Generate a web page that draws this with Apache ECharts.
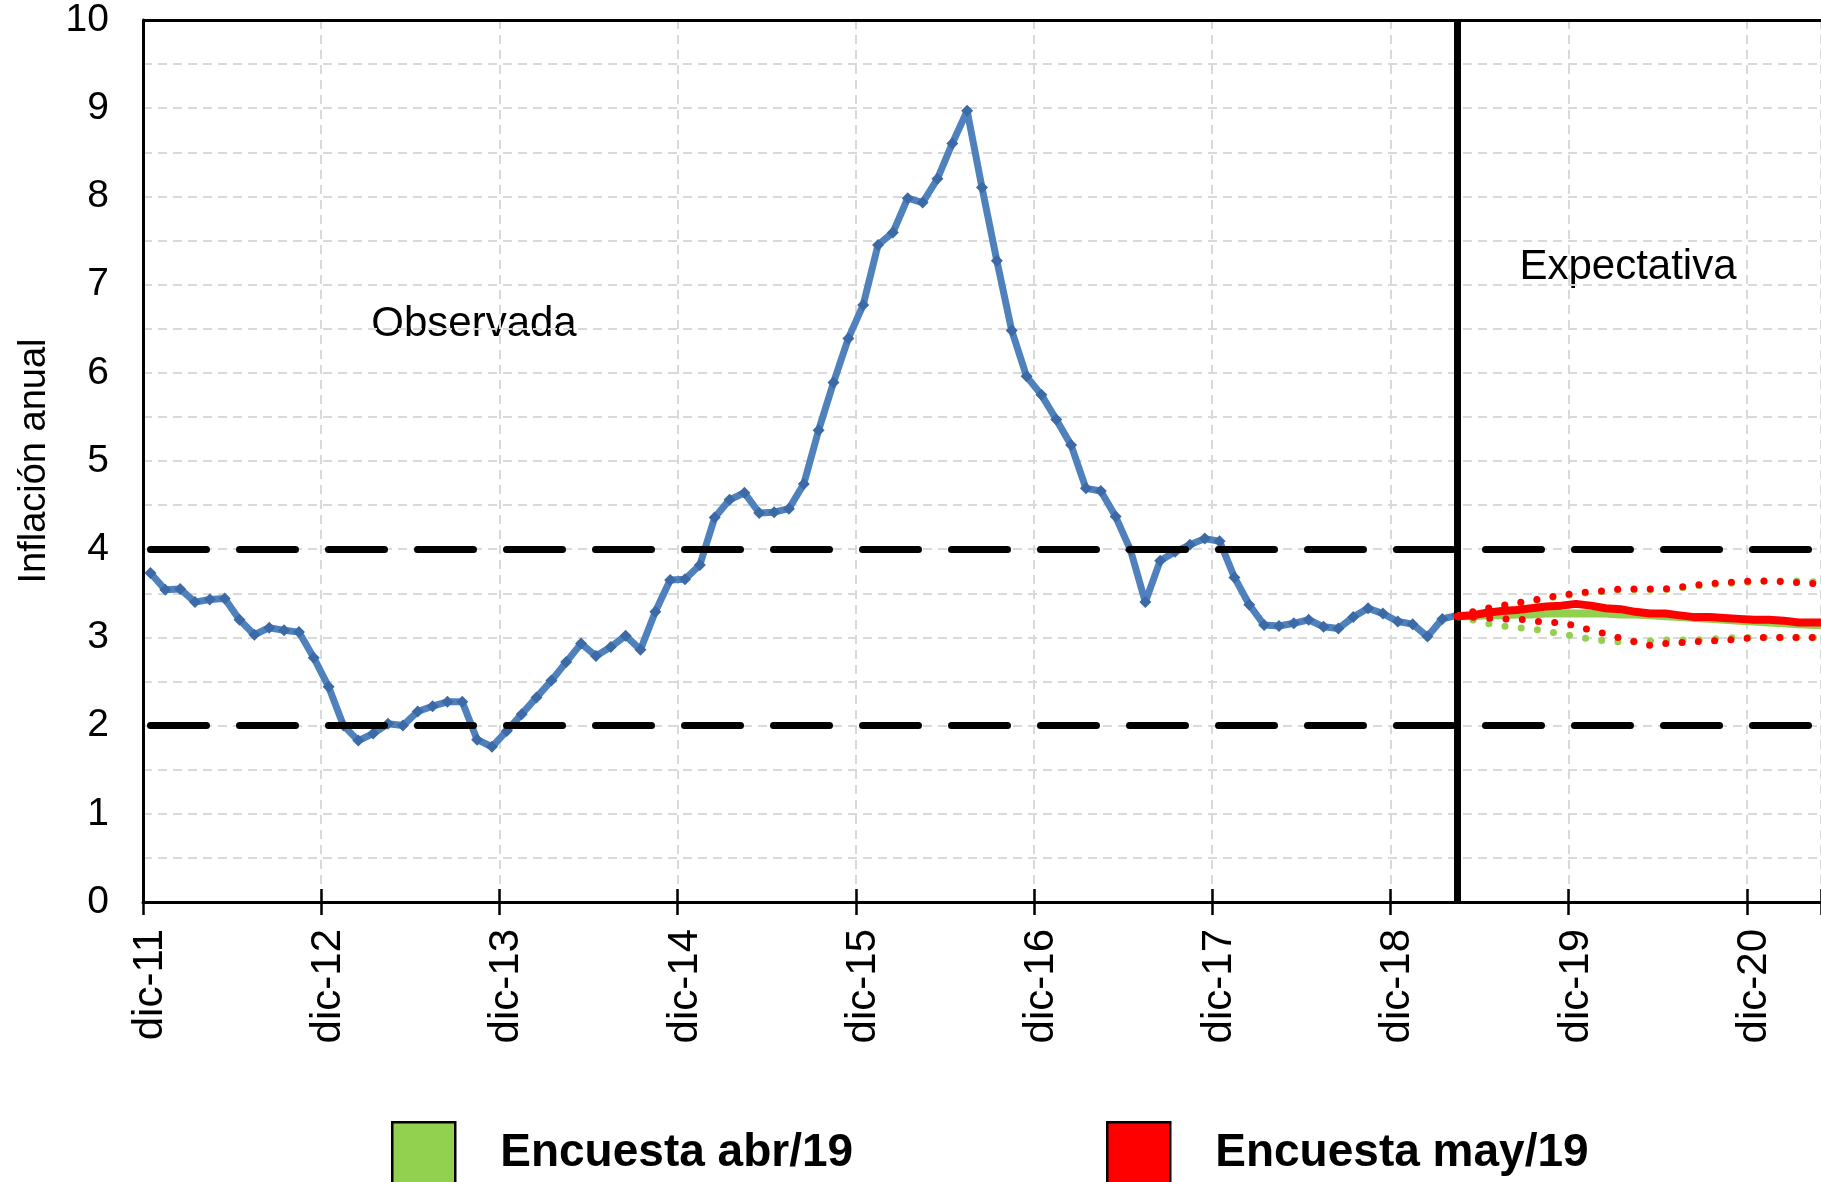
<!DOCTYPE html>
<html>
<head>
<meta charset="utf-8">
<script src="https://cdn.jsdelivr.net/npm/echarts@6/dist/echarts.min.js"></script>
<style>
html,body{margin:0;padding:0;background:#fff;}
#chart{width:1821px;height:1182px;}
</style>
</head>
<body>
<div id="chart"></div>
<script>
// ---------- DATA ----------
const meses = ['ene','feb','mar','abr','may','jun','jul','ago','sep','oct','nov','dic'];
const inicioAnio = 2011, inicioMes = 11, nCategorias = 114; // dic-11 ... may-21
const categorias = [];
for (let k = 0; k < nCategorias; k++) {
  const m = (inicioMes + k) % 12;
  const a = inicioAnio + Math.floor((inicioMes + k) / 12);
  categorias.push(meses[m] + '-' + String(a % 100).padStart(2, '0'));
}
const ultimaVisible = 'abr-21';

// Inflación anual observada (dic-11 ... abr-19)
const observada = [3.73,
  3.54, 3.55, 3.40, 3.43, 3.44, 3.20, 3.03, 3.11, 3.08, 3.06, 2.77, 2.44,
  2.00, 1.83, 1.91, 2.02, 2.00, 2.16, 2.22, 2.27, 2.27, 1.84, 1.76, 1.94,
  2.13, 2.32, 2.51, 2.72, 2.93, 2.79, 2.89, 3.02, 2.86, 3.29, 3.65, 3.66,
  3.82, 4.36, 4.56, 4.64, 4.41, 4.42, 4.46, 4.74, 5.35, 5.89, 6.39, 6.77,
  7.45, 7.59, 7.98, 7.93, 8.20, 8.60, 8.97, 8.10, 7.27, 6.48, 5.96, 5.75,
  5.47, 5.18, 4.69, 4.66, 4.37, 3.99, 3.40, 3.87, 3.97, 4.05, 4.12, 4.09,
  3.68, 3.37, 3.14, 3.13, 3.16, 3.20, 3.12, 3.10, 3.23, 3.33, 3.27, 3.18,
  3.15, 3.01, 3.21, 3.25];

// Expectativas (abr-19 ... may-21)
const inicioExpectativa = 'abr-19';
const abrMediana = [3.24,3.24,3.25,3.25,3.26,3.26,3.27,3.27,3.27,3.27,3.27,3.26,3.26,3.25,3.24,3.23,3.22,3.21,3.20,3.19,3.18,3.17,3.16,3.15,3.14,3.14];
const abrSup     = [3.24,3.28,3.32,3.35,3.38,3.41,3.44,3.47,3.49,3.51,3.52,3.54,3.54,3.54,3.54,3.56,3.58,3.60,3.61,3.62,3.63,3.64,3.64,3.64,3.63,3.62];
const abrInf     = [3.24,3.20,3.16,3.13,3.11,3.10,3.07,3.04,3.01,2.98,2.96,2.95,2.95,2.96,2.97,2.97,2.97,2.98,2.99,3.00,3.00,3.00,3.00,3.00,3.00,3.00];
const mayMediana = [3.24,3.25,3.28,3.30,3.31,3.33,3.35,3.36,3.38,3.36,3.33,3.32,3.29,3.27,3.27,3.25,3.23,3.23,3.22,3.21,3.20,3.20,3.19,3.17,3.17,3.17];
const maySup     = [3.24,3.29,3.33,3.36,3.39,3.42,3.45,3.48,3.50,3.52,3.53,3.55,3.55,3.55,3.55,3.57,3.59,3.61,3.62,3.63,3.64,3.64,3.63,3.62,3.61,3.60];
const mayInf     = [3.24,3.23,3.22,3.21,3.21,3.19,3.17,3.17,3.13,3.08,3.04,2.99,2.95,2.91,2.93,2.94,2.95,2.96,2.97,2.98,3.00,3.00,3.00,3.00,3.00,3.00];

const rangoMeta = [2, 4];
const yTicks = [0,1,2,3,4,5,6,7,8,9,10];

// ---------- BUILD ----------
const FONT = '"Liberation Sans", Arial, sans-serif';
const offset = categorias.indexOf(inicioExpectativa);
function pad(arr) { return new Array(offset).fill(null).concat(arr); }

const BLUE = '#4F81BD', RED = '#FF0000', GREEN = '#92D050';
const dotStyle = (c) => ({ color: c, width: 7, type: [0, 16.3], cap: 'round' });

const chart = echarts.init(document.getElementById('chart'), null, { renderer: 'canvas' });
chart.setOption({
  animation: false,
  backgroundColor: '#fff',
  textStyle: { fontFamily: FONT },
  grid: { left: 143, top: 20, right: 0, bottom: 280, containLabel: false },
  xAxis: [{
    type: 'category',
    data: categorias,
    max: ultimaVisible,
    boundaryGap: true,
    axisLine: { show: true, lineStyle: { color: '#000', width: 3 } },
    axisTick: { show: true, interval: 11, length: 13, lineStyle: { color: '#000', width: 2.5 } },
    axisLabel: { interval: 11, rotate: 90, fontSize: 42, color: '#000', fontFamily: FONT, margin: 27 },
    splitLine: { show: true, interval: 11, lineStyle: { color: '#D9D9D9', width: 2, type: [9, 6] } }
  }, {
    type: 'category',
    data: categorias,
    max: ultimaVisible,
    boundaryGap: true,
    position: 'bottom',
    axisLine: { show: false },
    axisTick: { show: true, inside: true, interval: 11, length: 13, lineStyle: { color: '#000', width: 2.5 } },
    axisLabel: { show: false },
    splitLine: { show: false }
  }],
  yAxis: {
    type: 'value',
    min: 0, max: 10, interval: 0.5,
    name: 'Inflación anual',
    nameLocation: 'middle',
    nameGap: 89,
    nameRotate: 90,
    nameTextStyle: { fontSize: 38, color: '#000', fontFamily: FONT },
    axisLine: { show: true, lineStyle: { color: '#000', width: 3 } },
    axisTick: { show: false },
    axisLabel: {
      fontSize: 39, color: '#000', fontFamily: FONT, margin: 34,
      formatter: v => (yTicks.indexOf(v) >= 0 ? String(v) : '')
    },
    splitLine: { show: true, lineStyle: { color: '#D9D9D9', width: 2, type: [9, 6] } }
  },
  legend: [{
    data: [{ name: 'Encuesta abr/19', icon: 'rect', itemStyle: { color: GREEN, borderColor: '#000', borderWidth: 2.5 } }],
    left: 391, top: 1121, padding: 0, itemWidth: 63, itemHeight: 63, selectedMode: false,
    textStyle: { fontSize: 46, fontWeight: 'bold', color: '#000', fontFamily: FONT, padding: [11, 0, 0, 40] }
  }, {
    data: [{ name: 'Encuesta may/19', icon: 'rect', itemStyle: { color: RED, borderColor: '#000', borderWidth: 2.5 } }],
    left: 1106, top: 1121, padding: 0, itemWidth: 63, itemHeight: 63, selectedMode: false,
    textStyle: { fontSize: 46, fontWeight: 'bold', color: '#000', fontFamily: FONT, padding: [11, 0, 0, 40] }
  }],
  graphic: [
    { type: 'text', x: 474, y: 324, style: { text: 'Observada', font: '42px ' + FONT, fill: '#000', align: 'center', verticalAlign: 'middle' } },
    { type: 'text', x: 1628, y: 267, style: { text: 'Expectativa', font: '42px ' + FONT, fill: '#000', align: 'center', verticalAlign: 'middle' } }
  ],
  series: [
    {
      name: 'meta', type: 'line', data: categorias.map(() => null), z: 1, silent: true,
      markLine: {
        silent: true, symbol: 'none', label: { show: false },
        data: rangoMeta.map(v => ({ yAxis: v, lineStyle: { color: '#000', width: 7, type: [56, 33], dashOffset: -7.5, cap: 'round' } }))
          .concat([{ yAxis: 10, lineStyle: { color: '#000', width: 3, type: 'solid' } }])
      }
    },
    {
      name: 'Observada', type: 'line', data: observada, z: 2,
      lineStyle: { color: BLUE, width: 7 },
      itemStyle: { color: '#3B6AA6' },
      symbol: 'diamond', symbolSize: 12, showSymbol: true, showAllSymbol: true
    },
    {
      name: 'corte', type: 'line', data: categorias.map(() => null), z: 3, silent: true,
      markLine: {
        silent: true, symbol: 'none', label: { show: false },
        data: [{ xAxis: inicioExpectativa, lineStyle: { color: '#000', width: 7, type: 'solid' } }]
      }
    },
    { name: 'abr sup', type: 'line', data: pad(abrSup), z: 4, symbol: 'none', lineStyle: dotStyle(GREEN) },
    { name: 'abr inf', type: 'line', data: pad(abrInf), z: 4, symbol: 'none', lineStyle: dotStyle(GREEN) },
    { name: 'Encuesta abr/19', type: 'line', data: pad(abrMediana), z: 5, symbol: 'none', itemStyle: { color: GREEN }, lineStyle: { color: GREEN, width: 8 } },
    { name: 'may sup', type: 'line', data: pad(maySup), z: 6, symbol: 'none', lineStyle: dotStyle(RED) },
    { name: 'may inf', type: 'line', data: pad(mayInf), z: 6, symbol: 'none', lineStyle: dotStyle(RED) },
    { name: 'Encuesta may/19', type: 'line', data: pad(mayMediana), z: 7, symbol: 'none', itemStyle: { color: RED }, lineStyle: { color: RED, width: 8 } }
  ]
});
</script>
</body>
</html>
